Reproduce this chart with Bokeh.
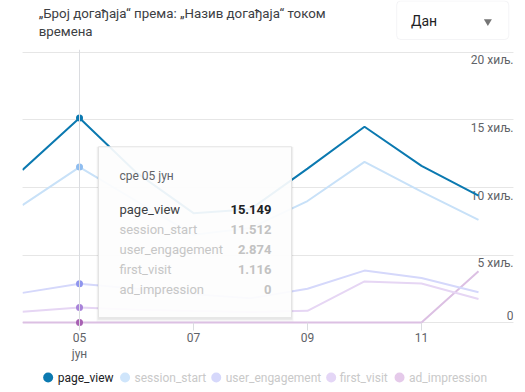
from bokeh.plotting import figure
from bokeh.models import ColumnDataSource, FixedTicker, Span, BoxAnnotation, Range1d, Grid
from bokeh.layouts import column
from bokeh.embed import file_html
from bokeh.resources import INLINE
from bokeh.core.properties import value

# ---------------- data ----------------
days = [4, 5, 6, 7, 8, 9, 10, 11, 12]
series_names = ["page_view", "session_start", "user_engagement", "first_visit", "ad_impression"]
page_view = [11300, 15149, 11100, 8100, 8400, 11400, 14500, 11600, 9400]
session_start = [8700, 11512, 9000, 6500, 7000, 9000, 11900, 9700, 7600]
user_engagement = [2200, 2874, 2500, 2100, 1800, 2500, 3850, 3300, 2250]
first_visit = [800, 1116, 950, 850, 780, 870, 3050, 2900, 1750]
ad_impression = [0, 0, 0, 0, 0, 0, 0, 0, 3800]
series_values = [page_view, session_start, user_engagement, first_visit, ad_impression]

x_ticks = [5, 7, 9, 11]
x_tick_labels = ["05\nјун", "07", "09", "11"]
y_ticks = [0, 5000, 10000, 15000, 20000]
y_tick_labels = ["0", "5 хиљ.", "10 хиљ.", "15 хиљ.", "20 хиљ."]

title_lines = ["„Број догађаја“ према: „Назив догађаја“ током", "времена"]
dropdown_text = "Дан"
hover_index = 1
hover_title = "сре 05 јун"

# ---------------- styles ----------------
FONT = "Roboto"
W = 517
line_colors = ["#0b79b0", "#c8e1f8", "#d5d8fb", "#e6d6f4", "#dcc0e3"]
dot_colors = ["#0b79b0", "#8fbdf0", "#8f95ee", "#a883d9", "#a861b3"]
legend_colors = ["#0b79b0", "#cfe5fb", "#d6d8fb", "#e4d6f6", "#e5caea"]
legend_text_colors = ["#202124", "#c9c9c9", "#c9c9c9", "#c9c9c9", "#c9c9c9"]

PX_X = 57.0          # px per day
PX_Y = 13.75 / 1000  # px per unit
X0 = 4
X1 = 4 + 491 / PX_X
Y0 = -290
Y1 = 20220

# ---------------- header ----------------
h = figure(width=W, height=48, x_range=Range1d(0, W), y_range=Range1d(0, 48),
           output_backend="svg", toolbar_location=None, min_border=0, title=None,
           x_axis_location=None, y_axis_location=None)
h.outline_line_color = None
h.grid.visible = False
h.add_layout(BoxAnnotation(left=394, right=512, top=47.5, bottom=9,
                           fill_color="white", fill_alpha=1, line_color="#dadce0",
                           line_width=1, border_radius=4, level="underlay"))
h.text(x=[17, 17], y=[35.5, 17], text=title_lines, text_font=value(FONT),
       text_font_size="13.3px", text_color="#3c4043", text_baseline="middle")
h.text(x=[409], y=[28], text=[dropdown_text], text_font=value(FONT),
       text_font_size="14px", text_color="#202124", text_baseline="middle")
h.scatter(x=[490], y=[27], marker="inverted_triangle", size=8, color="#757575",
          line_color=None)

# ---------------- main chart ----------------
p = figure(width=W, height=316, x_range=Range1d(X0, X1), y_range=Range1d(Y0, Y1),
           output_backend="svg", toolbar_location=None, y_axis_location=None, title=None,
           min_border_left=22, min_border_right=4, min_border_top=1, min_border_bottom=33)
p.outline_line_color = None
p.xgrid.grid_line_color = None
p.add_layout(Grid(dimension=1, ticker=FixedTicker(ticks=y_ticks),
                  grid_line_color="#e6e6e6", grid_line_width=1))

ax = p.xaxis[0]
ax.ticker = FixedTicker(ticks=x_ticks)
ax.major_label_overrides = dict(zip(x_ticks, x_tick_labels))
ax.axis_line_color = None
ax.major_tick_in = 4
ax.major_tick_out = 4
ax.major_tick_line_color = "#dadce0"
ax.minor_tick_line_color = None
ax.major_label_standoff = 0
ax.major_label_text_font = FONT
ax.major_label_text_font_size = "12px"
ax.major_label_text_color = "#5f6368"

# hover crosshair
p.add_layout(Span(location=days[hover_index], dimension="height",
                  line_color="#dadce0", line_width=1))

# y tick labels (right side)
p.text(x=[X1] * (len(y_ticks) - 1), y=y_ticks[1:], text=y_tick_labels[1:],
       text_align="right", text_baseline="top", y_offset=1,
       text_font=value(FONT), text_font_size="12px", text_color="#5f6368")
p.text(x=[X1], y=y_ticks[:1], text=y_tick_labels[:1],
       text_align="right", text_baseline="bottom", y_offset=-3,
       text_font=value(FONT), text_font_size="12px", text_color="#5f6368")

# series lines (page_view on top)
for name, vals, lc in reversed(list(zip(series_names, series_values, line_colors))):
    src = ColumnDataSource(dict(x=days, y=vals))
    p.line("x", "y", source=src, line_color=lc, line_width=2)

# hover dots
for vals, dc in reversed(list(zip(series_values, dot_colors))):
    p.scatter(x=[days[hover_index]], y=[vals[hover_index]], size=7,
              color=dc, line_color=None)

# tooltip box (glyphs, drawn above the lines)
hx = days[hover_index]
t_left = hx + (98 - 79) / PX_X
t_right = hx + (291 - 79) / PX_X
t_top = (327 - 148) / PX_Y
t_bot = (327 - 322) / PX_Y
for grow, dy, a in [(2, 2, 0.035), (1, 1, 0.06)]:
    p.quad(left=[t_left - grow / PX_X], right=[t_right + grow / PX_X],
           top=[t_top + (grow - dy) / PX_Y], bottom=[t_bot - (grow + dy) / PX_Y],
           fill_color="black", fill_alpha=a, line_color=None)
p.quad(left=[t_left], right=[t_right], top=[t_top], bottom=[t_bot],
       fill_color="white", fill_alpha=0.92, line_color="#e4e4e4", line_width=1)

p.text(x=[hx], y=[t_top], text=[hover_title], x_offset=40, y_offset=29,
       text_baseline="middle", text_font=value(FONT), text_font_size="12px",
       text_color="#5f6368")

def fmt(v):
    return f"{v:,}".replace(",", ".")

row_offsets = [63 + 20 * i for i in range(len(series_names))]
tip_src = ColumnDataSource(dict(
    x=[hx] * len(series_names), y=[t_top] * len(series_names),
    name=series_names, val=[fmt(v[hover_index]) for v in series_values],
    yo=row_offsets,
    ncol=["#3c4043"] + ["#c6c6c6"] * 4,
    vcol=["#202124"] + ["#c2c2c2"] * 4,
))
p.text("x", "y", text="name", source=tip_src, x_offset=40, y_offset="yo",
       text_baseline="middle", text_font=value(FONT), text_font_size="13px",
       text_color="ncol")
p.text("x", "y", text="val", source=tip_src, x_offset=192, y_offset="yo",
       text_align="right", text_baseline="middle", text_font=value(FONT),
       text_font_size="13px", text_font_style="bold", text_color="vcol")

# ---------------- legend (footer) ----------------
f = figure(width=W, height=24, x_range=Range1d(0, W), y_range=Range1d(0, 24),
           output_backend="svg", toolbar_location=None, min_border=0, title=None,
           x_axis_location=None, y_axis_location=None)
f.outline_line_color = None
f.grid.visible = False
circle_x = [27, 108, 204, 325, 397]
text_x = [37, 118, 214, 334, 407]
leg_src = ColumnDataSource(dict(cx=circle_x, tx=text_x, y=[11] * 5, name=series_names,
                                col=legend_colors, tcol=legend_text_colors))
f.scatter("cx", "y", source=leg_src, size=10, color="col", line_color=None)
f.text("tx", "y", text="name", source=leg_src, text_baseline="middle",
       text_font=value(FONT), text_font_size="12px", text_color="tcol")

layout = column(h, p, f, spacing=0)
open("out.html", "w").write(file_html(layout, INLINE))
